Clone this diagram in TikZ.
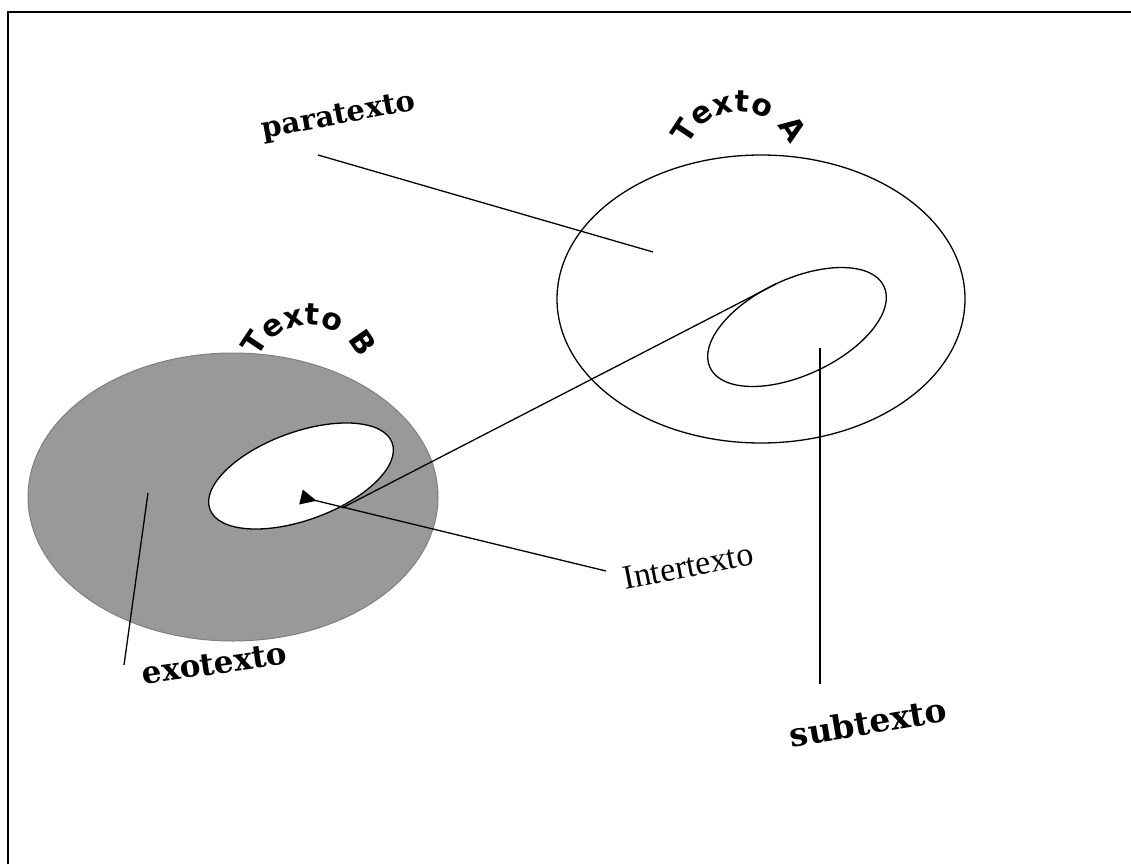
\documentclass[tikz,border=0pt]{standalone}
\usepackage{fontspec}
\usetikzlibrary{arrows.meta,decorations.text}
\definecolor{grayfill}{RGB}{153,153,153}
\definecolor{grayedge}{RGB}{128,128,128}
\newfontfamily\bookfont{DejaVu Serif}
\newfontfamily\garafont{Liberation Serif}
\newfontfamily\blackfont{DejaVu Sans}
\begin{document}
\begin{tikzpicture}[x=1pt,y=-1pt,line width=1.3pt,
  lbl/.style={font=\bookfont\bfseries\fontsize{#1}{#1}\selectfont,anchor=base,inner sep=0pt},
  garalbl/.style={font=\garafont\fontsize{34}{34}\selectfont,anchor=base,inner sep=0pt},
  conn/.style={line width=1.3pt},
  arctext/.style={decorate,decoration={text along path,text align=center,
     text={|\blackfont\bfseries\fontsize{30}{30}\selectfont|#1}}}]
\useasboundingbox (0,0) rectangle (1131,864);
% frame
\draw[line width=2pt] (8,864) -- (8,12) -- (1131,12);

% Texto B (grey)
\filldraw[fill=grayfill,draw=grayedge,line width=1pt] (233,497) ellipse [x radius=205,y radius=144];
\filldraw[fill=white,draw=black,rotate around={20:(301,476)}] (301,476) ellipse [x radius=97,y radius=44];

% Texto A
\draw (761,299) ellipse [x radius=204,y radius=144];
\draw[rotate around={25:(797,327)}] (797,327) ellipse [x radius=96,y radius=48];

% arc titles
\coordinate (arcA) at (687.3,185.8);
\coordinate (arcB) at (257.3,398.8);
\path[arctext={Texto A}] (arcA) arc[start angle=200,end angle=-20,radius=55pt];
\path[arctext={Texto B}] (arcB) arc[start angle=200,end angle=-20,radius=55pt];

% labels
\node[lbl=29,rotate=10.5] (para) at (340,124) {paratexto};
\node[lbl=31,rotate=8] (exo) at (216,674) {exotexto};
\node[lbl=33,rotate=9.5] (sub) at (870,734) {subtexto};
\node[garalbl,rotate=11] (inter) at (690,577) {Intertexto};

% connector end points
\coordinate (paraS) at (318,155);
\coordinate (paraE) at (653,252);
\coordinate (subS) at (820,348);
\coordinate (subE) at (820,684);
\coordinate (exoS) at (148,493);
\coordinate (exoE) at (124,665);
\coordinate (longS) at (342,508);
\coordinate (longE) at (776,284);
\coordinate (arrP) at (301,497);
\coordinate (interS) at (606,571);

\draw[conn] (paraS) -- (paraE);
\draw[conn] (subS) -- (subE);
\draw[conn] (exoS) -- (exoE);
\draw[conn] (longS) -- (longE);
\draw[conn,{Triangle[reversed,length=16pt,width=15pt]}-] (arrP) -- (interS);
\end{tikzpicture}
\end{document}
